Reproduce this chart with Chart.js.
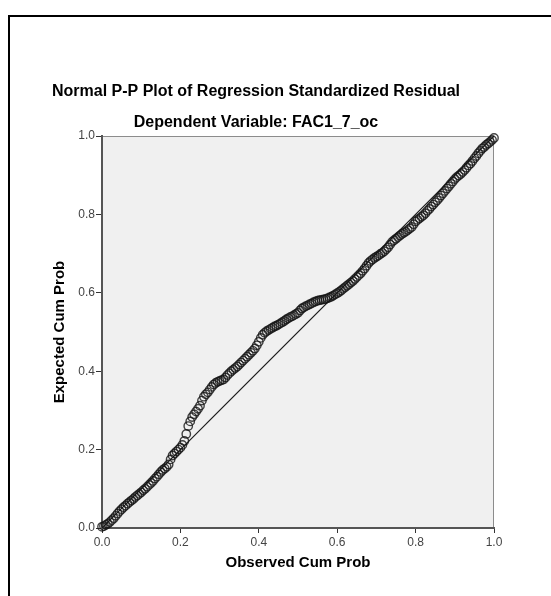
<!DOCTYPE html>
<html>
<head>
<meta charset="utf-8">
<script src="https://cdn.jsdelivr.net/npm/chart.js@4"></script>
<style>
  html, body { margin: 0; padding: 0; background: #fff; }
  #wrap { width: 551px; height: 596px; }
</style>
</head>
<body>
<div id="wrap"><canvas id="chart-pp" width="551" height="596"></canvas></div>
<script>
// observed cumulative probabilities (x) and expected (y)
const observed = [
  0.000, 0.005, 0.010, 0.015, 0.020, 0.025, 0.030, 0.035, 0.040, 0.045,
  0.050, 0.055, 0.060, 0.065, 0.070, 0.075, 0.080, 0.085, 0.090, 0.095,
  0.100, 0.105, 0.110, 0.115, 0.120, 0.125, 0.130, 0.135, 0.140, 0.145,
  0.150, 0.155, 0.160, 0.165, 0.170, 0.175, 0.180, 0.185, 0.190, 0.195,
  0.200, 0.205, 0.210, 0.215, 0.220, 0.225, 0.230, 0.235, 0.240, 0.245,
  0.250, 0.255, 0.260, 0.265, 0.270, 0.275, 0.280, 0.285, 0.290, 0.295,
  0.300, 0.305, 0.310, 0.315, 0.320, 0.325, 0.330, 0.335, 0.340, 0.345,
  0.350, 0.355, 0.360, 0.365, 0.370, 0.375, 0.380, 0.385, 0.390, 0.395,
  0.400, 0.405, 0.410, 0.415, 0.420, 0.425, 0.430, 0.435, 0.440, 0.445,
  0.450, 0.455, 0.460, 0.465, 0.470, 0.475, 0.480, 0.485, 0.490, 0.495,
  0.500, 0.505, 0.510, 0.515, 0.520, 0.525, 0.530, 0.535, 0.540, 0.545,
  0.550, 0.555, 0.560, 0.565, 0.570, 0.575, 0.580, 0.585, 0.590, 0.595,
  0.600, 0.605, 0.610, 0.615, 0.620, 0.625, 0.630, 0.635, 0.640, 0.645,
  0.650, 0.655, 0.660, 0.665, 0.670, 0.675, 0.680, 0.685, 0.690, 0.695,
  0.700, 0.705, 0.710, 0.715, 0.720, 0.725, 0.730, 0.735, 0.740, 0.745,
  0.750, 0.755, 0.760, 0.765, 0.770, 0.775, 0.780, 0.785, 0.790, 0.795,
  0.800, 0.805, 0.810, 0.815, 0.820, 0.825, 0.830, 0.835, 0.840, 0.845,
  0.850, 0.855, 0.860, 0.865, 0.870, 0.875, 0.880, 0.885, 0.890, 0.895,
  0.900, 0.905, 0.910, 0.915, 0.920, 0.925, 0.930, 0.935, 0.940, 0.945,
  0.950, 0.955, 0.960, 0.965, 0.970, 0.975, 0.980, 0.985, 0.990, 0.995,
  1.000,
];
const expected = [
  0.003, 0.005, 0.008, 0.011, 0.015, 0.020, 0.025, 0.031, 0.037, 0.043,
  0.048, 0.053, 0.057, 0.062, 0.066, 0.070, 0.074, 0.079, 0.083, 0.087,
  0.091, 0.096, 0.100, 0.105, 0.110, 0.115, 0.120, 0.126, 0.131, 0.137,
  0.143, 0.148, 0.152, 0.156, 0.162, 0.175, 0.185, 0.190, 0.195, 0.200,
  0.205, 0.212, 0.222, 0.240, 0.260, 0.272, 0.283, 0.290, 0.297, 0.304,
  0.312, 0.325, 0.335, 0.341, 0.346, 0.353, 0.360, 0.366, 0.370, 0.373,
  0.375, 0.377, 0.379, 0.384, 0.390, 0.395, 0.400, 0.404, 0.408, 0.412,
  0.417, 0.422, 0.427, 0.432, 0.437, 0.442, 0.447, 0.452, 0.458, 0.466,
  0.475, 0.485, 0.493, 0.498, 0.502, 0.505, 0.508, 0.511, 0.514, 0.516,
  0.519, 0.522, 0.525, 0.528, 0.532, 0.535, 0.538, 0.540, 0.543, 0.546,
  0.549, 0.555, 0.560, 0.563, 0.566, 0.568, 0.571, 0.573, 0.576, 0.578,
  0.580, 0.581, 0.582, 0.583, 0.584, 0.586, 0.588, 0.590, 0.593, 0.596,
  0.599, 0.602, 0.606, 0.610, 0.614, 0.618, 0.622, 0.626, 0.630, 0.635,
  0.640, 0.645, 0.650, 0.656, 0.662, 0.669, 0.676, 0.681, 0.685, 0.689,
  0.692, 0.695, 0.699, 0.702, 0.706, 0.711, 0.716, 0.723, 0.730, 0.734,
  0.738, 0.742, 0.746, 0.750, 0.753, 0.756, 0.760, 0.764, 0.768, 0.775,
  0.782, 0.786, 0.790, 0.794, 0.798, 0.803, 0.809, 0.814, 0.820, 0.825,
  0.831, 0.836, 0.842, 0.848, 0.854, 0.860, 0.866, 0.872, 0.878, 0.884,
  0.890, 0.895, 0.899, 0.903, 0.908, 0.913, 0.919, 0.925, 0.930, 0.936,
  0.943, 0.949, 0.956, 0.962, 0.968, 0.972, 0.977, 0.981, 0.985, 0.990,
  0.995,
];
const refLineX = [0, 1];
const refLineY = [0, 1];

const titleText = "Normal P-P Plot of Regression Standardized Residual";
const subtitleText = "Dependent Variable: FAC1_7_oc";

const FONT = "'Liberation Sans', Arial, sans-serif";

// frame, plot background and the two text lines above the plot
const spssLook = {
  id: "spssLook",
  beforeDraw(chart) {
    const { ctx, chartArea: a } = chart;
    ctx.save();
    ctx.fillStyle = "#fff";
    ctx.fillRect(0, 0, chart.width, chart.height);
    ctx.strokeStyle = "#000";
    ctx.lineWidth = 2;
    ctx.beginPath();
    ctx.moveTo(9, chart.height);
    ctx.lineTo(9, 16);
    ctx.lineTo(chart.width, 16);
    ctx.stroke();
    ctx.fillStyle = "#f0f0f0";
    ctx.fillRect(a.left, a.top, a.right - a.left, a.bottom - a.top);
    ctx.strokeStyle = "#8c8c8c";
    ctx.lineWidth = 1;
    ctx.beginPath();
    ctx.moveTo(a.left, a.top + 0.5);
    ctx.lineTo(a.right - 0.5, a.top + 0.5);
    ctx.lineTo(a.right - 0.5, a.bottom);
    ctx.stroke();
    ctx.restore();
  },
  afterDraw(chart) {
    const { ctx } = chart;
    ctx.save();
    ctx.fillStyle = "#000";
    ctx.textAlign = "center";
    ctx.textBaseline = "middle";
    ctx.font = "bold 16px " + FONT;
    ctx.fillText(titleText, 256, 92);
    ctx.fillText(subtitleText, 256, 123);
    ctx.restore();
  },
};

const ctx = document.getElementById("chart-pp");
const ppData = {
  datasets: [
    {
      type: "line",
      data: refLineX.map((x, i) => ({ x: x, y: refLineY[i] })),
      borderColor: "#1a1a1a",
      borderWidth: 1.2,
      pointRadius: 0,
      order: 2,
    },
    {
      type: "scatter",
      data: observed.map((x, i) => ({ x: x, y: expected[i] })),
      pointStyle: "circle",
      pointRadius: 4.2,
      borderWidth: 1.4,
      borderColor: "rgba(20,20,20,0.8)",
      backgroundColor: "rgba(0,0,0,0)",
      clip: false,
      order: 1,
    },
  ],
};

const tickFont = { family: FONT, size: 12 };
const titleFont = { family: FONT, size: 15, weight: "bold" };

new Chart(ctx, {
  data: ppData,
  options: {
    responsive: false,
    animation: false,
    layout: { padding: { top: 136, right: 57, left: 0, bottom: 0 } },
    scales: {
      x: {
        type: "linear",
        min: 0,
        max: 1,
        afterFit: (scale) => { scale.height = 68; },
        grid: { drawOnChartArea: false, drawTicks: true, tickLength: 5, tickColor: "#333" },
        border: { color: "#555", width: 2 },
        ticks: {
          stepSize: 0.2,
          padding: 2,
          color: "#444",
          font: tickFont,
          callback: (v) => Number(v).toFixed(1),
        },
        title: {
          display: true,
          text: "Observed Cum Prob",
          color: "#000",
          font: titleFont,
          padding: { top: 0, bottom: 24 },
        },
      },
      y: {
        type: "linear",
        min: 0,
        max: 1,
        afterFit: (scale) => { scale.width = 102; },
        grid: { drawOnChartArea: false, drawTicks: true, tickLength: 6, tickColor: "#333" },
        border: { color: "#555", width: 2 },
        ticks: {
          stepSize: 0.2,
          padding: 1,
          color: "#444",
          font: tickFont,
          callback: (v) => Number(v).toFixed(1),
        },
        title: {
          display: true,
          text: "Expected Cum Prob",
          color: "#000",
          font: titleFont,
          padding: { top: 51, bottom: 0 },
        },
      },
    },
    plugins: {
      legend: { display: false },
      title: { display: false },
      tooltip: { enabled: false },
    },
  },
  plugins: [spssLook],
});
</script>
</body>
</html>
